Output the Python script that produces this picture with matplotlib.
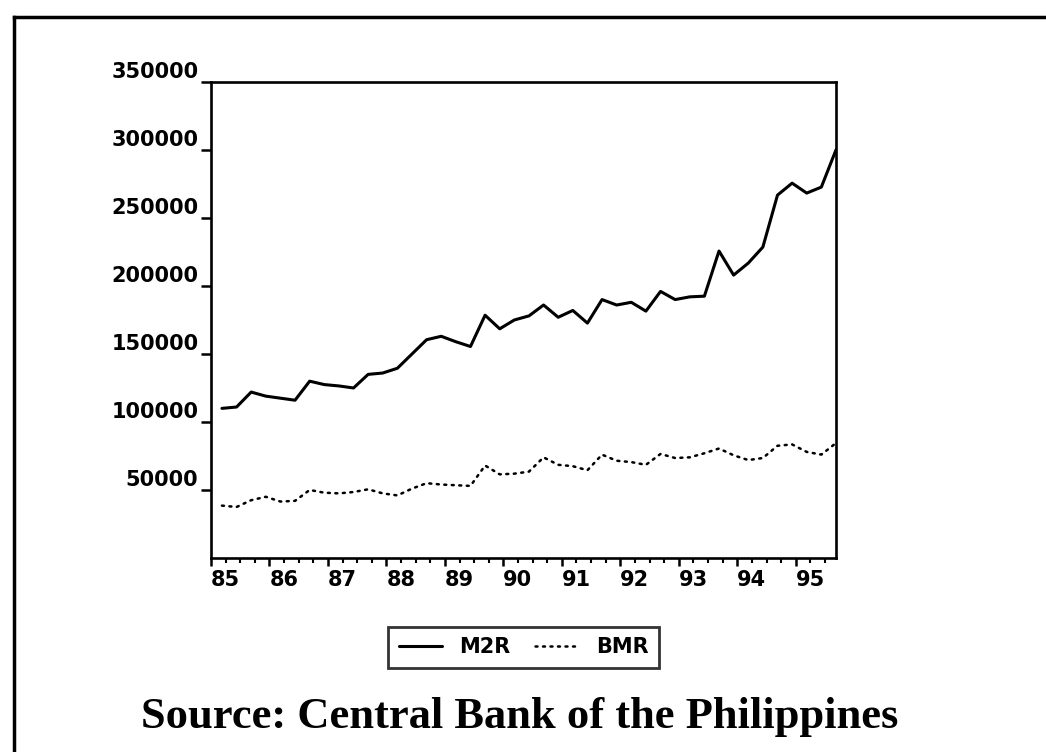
import matplotlib
matplotlib.use("Agg")
import matplotlib.pyplot as plt
from matplotlib.lines import Line2D
import numpy as np

# quarterly observations, 1985Q1 .. 1995Q3
quarters = np.arange(43)
year_labels = ['85', '86', '87', '88', '89', '90', '91', '92', '93', '94', '95']

m2r = [110000, 111000, 122000, 119000, 117500, 116000, 130000, 127500, 126500, 125000,
       135000, 136000, 139500, 150000, 160500, 163000, 159000, 155500, 178500, 168500,
       175000, 178000, 186000, 177000, 182000, 172700, 190000, 186000, 188000, 181500,
       196000, 190000, 192000, 192500, 225700, 208000, 216800, 228600, 266800, 275600,
       268300, 272700, 300000]

bmr = [38500, 37500, 42500, 45000, 41500, 42000, 50000, 48000, 47500, 48500,
       50500, 47500, 46000, 51000, 55000, 54000, 53500, 53000, 68000, 61500,
       62000, 63500, 74000, 68500, 67500, 64500, 76000, 71500, 70500, 68500,
       76500, 73500, 74000, 77000, 80500, 75500, 72000, 73500, 82500, 83500,
       78000, 76000, 84500]

y_ticks = [50000, 100000, 150000, 200000, 250000, 300000, 350000]

fig = plt.figure(figsize=(10.46, 7.52), dpi=100)
ax = fig.add_axes([0.2017, 0.258, 0.5975, 0.633])

ax.plot(quarters, m2r, color='black', lw=2.2, label='M2R', solid_capstyle='round')
ax.plot(quarters, bmr, color='black', lw=1.8, linestyle=(0, (0.8, 2.2)),
        dash_capstyle='round', label='BMR')

ax.set_xlim(-0.75, 42)
ax.set_ylim(0, 350000)

tick_font = dict(family='DejaVu Sans', weight='bold', size=15)

major_x = np.arange(len(year_labels)) * 4 - 0.75
ax.set_xticks(major_x)
ax.set_xticklabels(year_labels, ha='left', **tick_font)
ax.set_xticks(np.arange(43) - 0.75, minor=True)
ax.tick_params(axis='x', which='major', direction='out', length=6, width=1.8, pad=3)
ax.tick_params(axis='x', which='minor', direction='out', length=3.5, width=1.5)

ax.set_yticks(y_ticks)
ax.set_yticklabels([str(v) for v in y_ticks], **tick_font)
for lbl in ax.get_yticklabels():
    lbl.set_va('bottom')
ax.tick_params(axis='y', direction='out', length=7, width=1.8, pad=2)

for sp in ax.spines.values():
    sp.set_linewidth(1.9)

leg = ax.legend(loc='upper center', bbox_to_anchor=(0.5, -0.123), ncol=2,
                frameon=True, fancybox=False, edgecolor='black',
                prop=dict(family='DejaVu Sans', weight='bold', size=15),
                handlelength=2.1, handletextpad=0.8, columnspacing=1.2,
                borderpad=0.5)
leg.get_frame().set_linewidth(2.0)

fig.text(0.497, 0.047, 'Source: Central Bank of the Philippines',
         ha='center', va='center', family='Liberation Serif', weight='bold', size=32)

# outer frame of the scanned page box
fig.add_artist(Line2D([0.0134, 1.0], [0.977, 0.977], color='black', lw=2.5,
                      transform=fig.transFigure))
fig.add_artist(Line2D([0.0134, 0.0134], [0.0, 0.977], color='black', lw=2.5,
                      transform=fig.transFigure))

fig.savefig('out.png', dpi=100)
